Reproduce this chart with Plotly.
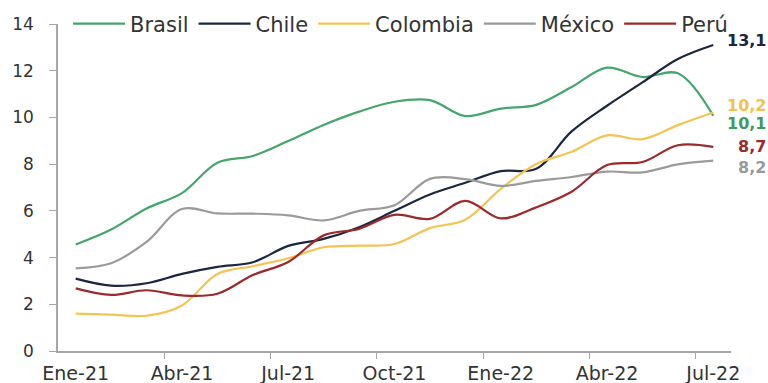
import plotly.graph_objects as go

months = ["Ene-21","Feb-21","Mar-21","Abr-21","May-21","Jun-21","Jul-21","Ago-21","Sep-21",
          "Oct-21","Nov-21","Dic-21","Ene-22","Feb-22","Mar-22","Abr-22","May-22","Jun-22","Jul-22"]
brasil   = [4.56, 5.20, 6.10, 6.76, 8.06, 8.35, 8.99, 9.68, 10.25, 10.67, 10.74, 10.06, 10.38, 10.54, 11.30, 12.13, 11.73, 11.89, 10.07]
chile    = [3.1, 2.8, 2.9, 3.3, 3.6, 3.8, 4.5, 4.8, 5.3, 6.0, 6.7, 7.2, 7.7, 7.8, 9.4, 10.5, 11.5, 12.5, 13.1]
colombia = [1.60, 1.56, 1.51, 1.95, 3.30, 3.63, 3.97, 4.44, 4.51, 4.58, 5.26, 5.62, 6.94, 8.01, 8.53, 9.23, 9.07, 9.67, 10.21]
mexico   = [3.54, 3.76, 4.67, 6.08, 5.89, 5.88, 5.81, 5.59, 6.00, 6.24, 7.37, 7.36, 7.07, 7.28, 7.45, 7.68, 7.65, 7.99, 8.15]
peru     = [2.68, 2.40, 2.60, 2.38, 2.45, 3.25, 3.81, 4.95, 5.23, 5.83, 5.66, 6.43, 5.68, 6.15, 6.82, 7.96, 8.09, 8.81, 8.74]

series = [
    ("Brasil", brasil, "#44a66c", "#3d9a63", -8),
    ("Chile", chile, "#1c2640", "#1c2640", 5),
    ("Colombia", colombia, "#f4c453", "#f2c14e", 7),
    ("México", mexico, "#9a9a9a", "#9a9a9a", -7),
    ("Perú", peru, "#9c2a2c", "#9c2a2c", 0),
]
tick_idx = [0, 3, 6, 9, 12, 15, 18]
tick_labels = [months[i] for i in tick_idx]

FONT = "DejaVu Sans"
x = list(range(len(months)))
fig = go.Figure()
for name, vals, col, lcol, ys in series:
    fig.add_trace(go.Scatter(x=x, y=vals, name=name, mode="lines",
                             line=dict(color=col, width=2.2, shape="spline", smoothing=1.0)))
    fig.add_annotation(x=1, xref="paper", y=vals[-1], yref="y", xanchor="right", xshift=36,
                       yshift=ys, text="<b>%s</b>" % f"{vals[-1]:.1f}".replace(".", ","),
                       showarrow=False, borderpad=0,
                       font=dict(family=FONT, size=16, color=lcol))

fig.update_layout(
    width=768, height=383,
    margin=dict(l=58, r=37, t=24, b=32, autoexpand=False),
    paper_bgcolor="white", plot_bgcolor="white",
    font=dict(family=FONT, color="#333333"),
    showlegend=True,
    legend=dict(orientation="h", x=0.0149, xanchor="left", y=1.0, yanchor="middle",
                font=dict(family=FONT, size=21, color="#333333"),
                itemwidth=52, bgcolor="rgba(0,0,0,0)", tracegroupgap=0),
)
fig.update_xaxes(range=[-0.5, len(months) - 0.5], tickmode="array", tickvals=tick_idx,
                 ticktext=tick_labels, ticks="outside", ticklen=4, tickcolor="rgba(0,0,0,0)",
                 showline=True, linecolor="#a6a6a6", linewidth=1.5, showgrid=False, zeroline=False,
                 automargin=False,
                 tickfont=dict(family=FONT, size=19, color="#333333"),
                 minor=dict(tickmode="array", tickvals=[i - 0.5 for i in tick_idx[1:]],
                            ticks="outside", ticklen=6, tickcolor="#a6a6a6", showgrid=False))
fig.update_yaxes(range=[0, 14], tickmode="array", tickvals=list(range(0, 15, 2)),
                 ticks="outside", ticklen=7, tickcolor="#a6a6a6", tickwidth=1.2,
                 showline=True, linecolor="#a6a6a6", linewidth=1.5, showgrid=False, zeroline=False,
                 ticklabelstandoff=12, automargin=False,
                 tickfont=dict(family=FONT, size=17, color="#333333"))
fig.write_html("out.html")
